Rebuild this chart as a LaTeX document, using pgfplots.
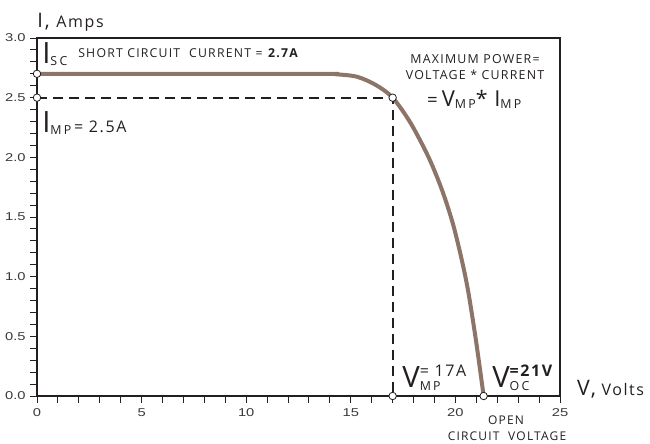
\documentclass[border=0pt]{standalone}
\usepackage{pgfplots}
\pgfplotsset{compat=1.18}
\usepackage{fontspec}
\setmainfont[LetterSpace=10]{Open Sans}
\newfontfamily\subfont[LetterSpace=18]{Open Sans}
\newfontfamily\tickfont[FakeStretch=1.3]{Liberation Sans}
\definecolor{ink}{HTML}{231F20}
\definecolor{curve}{HTML}{8C7468}
\definecolor{ticktext}{HTML}{3A3A3A}
\newcommand{\bigsym}[1]{{\fontsize{22}{22}\selectfont #1}}
\newcommand{\sub}[1]{\raisebox{-1.5pt}{\subfont\fontsize{9.3}{9.3}\selectfont #1}}
\begin{document}
\begin{tikzpicture}
\begin{axis}[
    scale only axis,
    width=392.25pt, height=268.5pt,
    xmin=0, xmax=25, ymin=0, ymax=3,
    xtick={0,5,...,25}, ytick={0,0.5,...,3},
    minor x tick num=4, minor y tick num=4,
    tick pos=left, tick align=outside,
    major tick length=5pt, minor tick length=5pt,
    every tick/.style={ink, line width=0.7pt},
    axis line style={ink, line width=1.8pt},
    yticklabel style={/pgf/number format/fixed, /pgf/number format/fixed zerofill, /pgf/number format/precision=1},
    /pgf/number format/assume math mode=true,
    tick label style={font=\tickfont\fontsize{8.5}{10}\selectfont, text=ticktext},
    xticklabel style={yshift=-1pt},
    clip=false,
]
  % I-V curve
  \addplot[smooth, line width=3pt, color=curve] coordinates {
    (0,2.7)(13.3,2.7)(14.3,2.696)(15.3,2.675)(16.2,2.606)(17,2.5)
    (17.85,2.29)(18.72,2.0)(19.36,1.726)(19.87,1.45)(20.27,1.167)(20.6,0.888)(20.98,0.469)(21.35,0)};
  % maximum power point guides
  \addplot[ink, line width=1.3pt, dash pattern=on 7.5pt off 4.5pt] coordinates {(0,2.5)(17,2.5)(17,0)};
  \addplot[only marks, mark=*, mark size=2.8pt, mark options={fill=white, draw=ink, line width=0.6pt}]
    coordinates {(0,2.7)(0,2.5)(17,2.5)(17,0)(21.35,0)};

  \node[anchor=base west, inner sep=0pt, text=ink] at (axis cs:0.0,3.092)
    {{\fontsize{15}{15}\selectfont I,}\hspace{5pt}{\fontsize{12}{12}\selectfont Amps}};
  \node[anchor=base west, inner sep=0pt, text=ink] at (axis cs:25.81,0.008)
    {{\fontsize{16}{16}\selectfont V,}\hspace{4pt}{\fontsize{12}{12}\selectfont Volts}};

  \node[anchor=base west, inner sep=0pt, text=ink] at (axis cs:0.24,2.79) {\bigsym{I}\sub{SC}};
  \node[anchor=base west, inner sep=0pt, text=ink, font=\fontsize{9.2}{10}\selectfont] at (axis cs:1.96,2.84)
    {SHORT CIRCUIT\ \ CURRENT = \textbf{2.7A}};
  \node[anchor=base west, inner sep=0pt, text=ink] at (axis cs:0.24,2.204)
    {\bigsym{I}\sub{MP}\hspace{2pt}{\fontsize{12}{12}\selectfont = 2.5A}};

  \node[anchor=base, inner sep=0pt, text=ink, font=\fontsize{9.3}{10}\selectfont] at (axis cs:20.94,2.79) {MAXIMUM POWER=};
  \node[anchor=base, inner sep=0pt, text=ink, font=\fontsize{9.3}{10}\selectfont] at (axis cs:20.94,2.656) {VOLTAGE * CURRENT};
  \node[anchor=base, inner sep=0pt, text=ink] at (axis cs:20.9,2.43)
    {{\fontsize{14}{14}\selectfont =}\hspace{3pt}{\fontsize{16.5}{16.5}\selectfont V}\sub{MP}{\fontsize{16}{16}\selectfont *}\hspace{5pt}{\fontsize{16.5}{16.5}\selectfont I}\sub{MP}};

  \node[anchor=base west, inner sep=0pt, text=ink] at (axis cs:17.45,0.075)
    {\bigsym{V}\makebox[0pt][l]{\raisebox{8pt}{\fontsize{12}{12}\selectfont = 17A}}\raisebox{-1pt}{\sub{MP}}};
  \node[anchor=base west, inner sep=0pt, text=ink] at (axis cs:21.75,0.075)
    {\bigsym{V}\makebox[0pt][l]{\raisebox{8pt}{\fontsize{12}{12}\selectfont \textbf{=21V}}}\raisebox{-1pt}{\sub{OC}}};

  \node[anchor=base, inner sep=0pt, text=ink, font=\fontsize{9}{10}\selectfont] at (axis cs:22.42,-0.235) {OPEN};
  \node[anchor=base, inner sep=0pt, text=ink, font=\fontsize{9}{10}\selectfont] at (axis cs:22.47,-0.369) {CIRCUIT\ \ VOLTAGE};
\end{axis}
\pgfresetboundingbox
\path ([xshift=-27.75pt,yshift=-35.25pt]current axis.south west) rectangle ([xshift=67.5pt,yshift=28.5pt]current axis.north east);
\end{tikzpicture}
\end{document}
